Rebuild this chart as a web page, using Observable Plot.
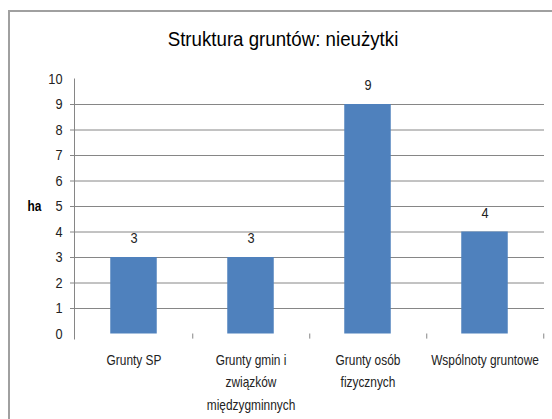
<!DOCTYPE html>
<html>
<head>
<meta charset="utf-8">
<script src="https://cdn.jsdelivr.net/npm/d3@7"></script>
<script src="https://cdn.jsdelivr.net/npm/@observablehq/plot@0.6"></script>
<style>
  html, body { margin: 0; padding: 0; background: #fff; }
  #wrap { position: relative; width: 552px; height: 419px; overflow: hidden; }
  #border { position: absolute; left: 8px; top: 10px; width: 560px; height: 420px;
            border-left: 2px solid #a0a0a0; border-top: 2px solid #a0a0a0; box-sizing: border-box; }
  #title { position: absolute; left: 0; width: 566px; top: 27px; text-align: center;
           font-family: "Liberation Sans", sans-serif; font-size: 21px; color: #000;
           transform: scaleX(0.89); transform-origin: 283px 0; }
  #chart { position: absolute; left: 0; top: 0; }
</style>
</head>
<body>
<div id="wrap">
  <div id="border"></div>
  <div id="chart"></div>
  <div id="title">Struktura gruntów: nieużytki</div>
</div>
<script>
const categories = ["Grunty SP", "Grunty gmin i związków międzygminnych", "Grunty osób fizycznych", "Wspólnoty gruntowe"];
const categoryLabels = ["Grunty SP", "Grunty gmin i\nzwiązków\nmiędzygminnych", "Grunty osób\nfizycznych", "Wspólnoty gruntowe"];
const values = [3, 3, 9, 4];
const yTicks = [0, 1, 2, 3, 4, 5, 6, 7, 8, 9, 10];
const gridTicks = [1, 2, 3, 4, 5, 6, 7, 8, 9];
const yLabel = "ha";

const data = categories.map((c, i) => ({cat: c, label: categoryLabels[i], value: values[i]}));

const W = 552, H = 419;
const mL = 74, mR = 8, mT = 78.5, mB = 85.5;
const step = (W - mL - mR) / categories.length;
const barW = 47;
const inset = (step - barW) / 2;
const font = "'Liberation Sans', sans-serif";

const chart = Plot.plot({
  width: W,
  height: H,
  marginLeft: mL,
  marginRight: mR,
  marginTop: mT,
  marginBottom: mB,
  style: {fontFamily: font, fontSize: "14px", background: "transparent", color: "#222"},
  x: {domain: categories, padding: 0, axis: null},
  y: {domain: [0, 10], axis: null},
  marks: [
    Plot.ruleY(gridTicks, {y: d => d, stroke: "#868686", strokeWidth: 1, strokeOpacity: 1, insetLeft: -4}),
    Plot.frame({anchor: "left", stroke: "#868686", strokeOpacity: 1, insetBottom: -5}),
    Plot.ruleX(categories, {x: d => d, dx: step / 2, y1: 0, y2: -0.2, stroke: "#868686", strokeOpacity: 1}),
    Plot.barY(data, {x: "cat", y: "value", fill: "#4F81BD", insetLeft: inset, insetRight: inset}),
    Plot.text(data, {x: "cat", y: "value", text: d => String(d.value), dy: -19, fontSize: 15, fill: "#222"}),
    Plot.text(yTicks, {y: d => d, text: d => String(d), frameAnchor: "left", textAnchor: "end", dx: -12, fontSize: 15, fill: "#222"}),
    Plot.text([yLabel], {text: d => d, frameAnchor: "left", textAnchor: "middle", y: 5, dx: -40, fontSize: 14, fontWeight: "bold", fill: "#000"}),
    Plot.text(data, {x: "cat", y: 0, text: "label", dy: 15, lineAnchor: "top", lineHeight: 1.6, fontSize: 14, fill: "#222"})
  ]
});
// condense glyphs to mimic the narrow font of the original
chart.querySelectorAll("text").forEach(t => {
  const tr = t.getAttribute("transform") || "";
  t.setAttribute("transform", (tr + " scale(0.85,1)").trim());
});
document.getElementById("chart").appendChild(chart);
</script>
</body>
</html>
